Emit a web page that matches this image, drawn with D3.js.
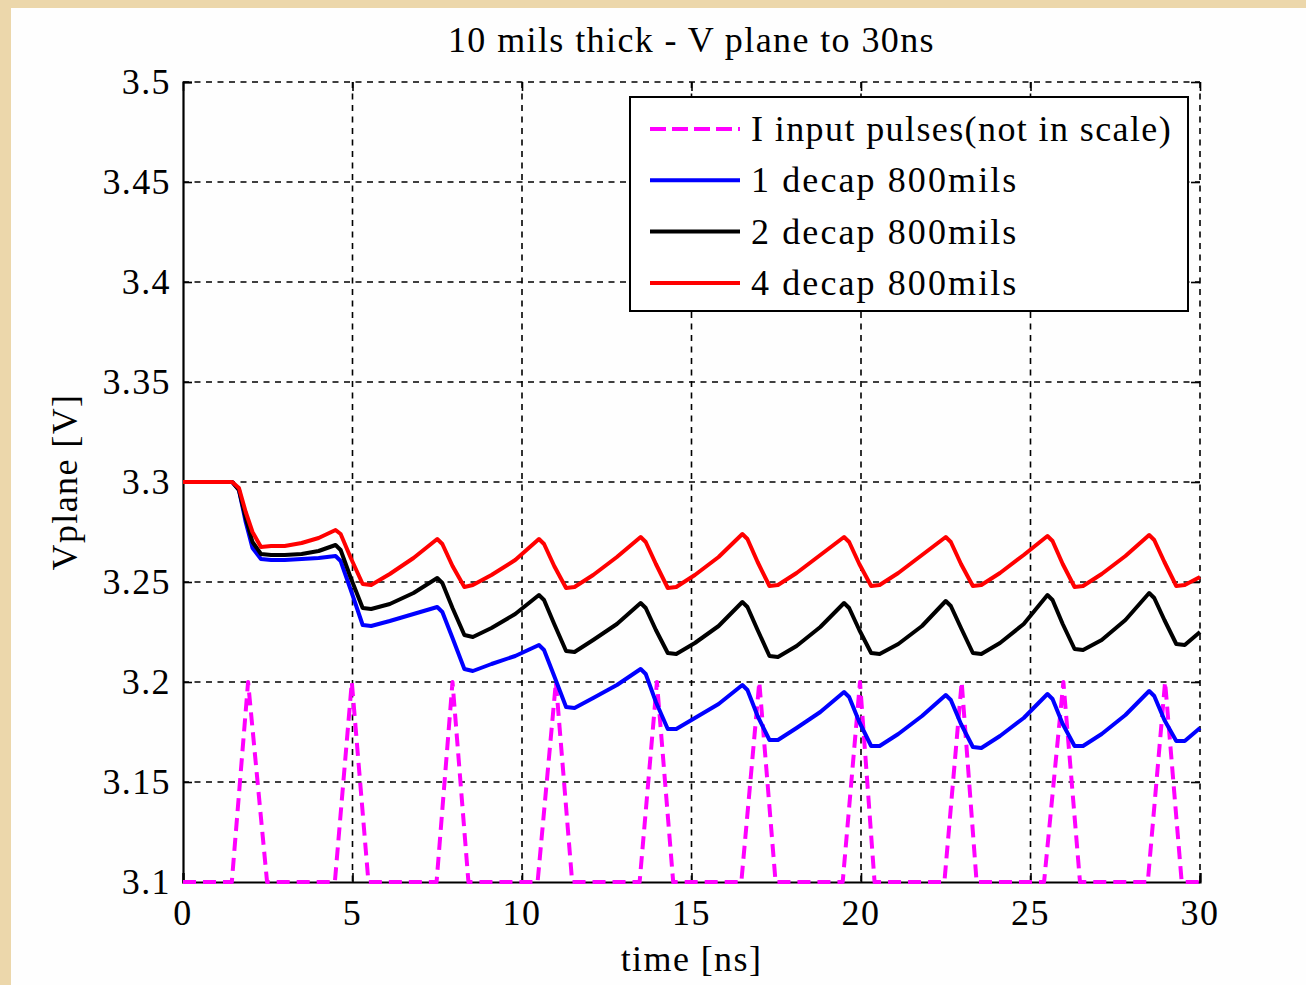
<!DOCTYPE html>
<html>
<head>
<meta charset="utf-8">
<script src="https://cdn.jsdelivr.net/npm/d3@7.9.0/dist/d3.min.js"></script>
<style>
  html, body { margin: 0; padding: 0; background: #ecd7ab; }
  svg { display: block; }
  text { font-family: "Liberation Serif", "Times New Roman", serif; fill: #000; letter-spacing: 1.4px; }
</style>
</head>
<body>
<svg id="chart" width="1306" height="985"></svg>
<script>
// chart data
const title = '10 mils thick - V plane to 30ns';
const xLabel = 'time [ns]';
const yLabel = 'Vplane [V]';
const xTicks = [0, 5, 10, 15, 20, 25, 30];
const yTicks = [3.1, 3.15, 3.2, 3.25, 3.3, 3.35, 3.4, 3.45, 3.5];
const yTickLabels = ['3.1', '3.15', '3.2', '3.25', '3.3', '3.35', '3.4', '3.45', '3.5'];
const legendLabels = ['I input pulses(not in scale)', '1 decap 800mils', '2 decap 800mils', '4 decap 800mils'];

// input current pulses (drawn on the voltage scale, not in scale)
const pulseT = [0, 1.44, 1.92, 2.48, 4.48, 4.98, 5.47, 7.48, 7.95, 8.42, 10.46, 11.0, 11.48,
  13.47, 13.98, 14.46, 16.47, 17.0, 17.48, 19.46, 19.97, 20.4, 22.46, 22.97, 23.41,
  25.4, 25.97, 26.46, 28.46, 28.97, 29.46, 30];
const pulseV = [3.1, 3.1, 3.2, 3.1, 3.1, 3.2, 3.1, 3.1, 3.2, 3.1, 3.1, 3.2, 3.1,
  3.1, 3.2, 3.1, 3.1, 3.2, 3.1, 3.1, 3.2, 3.1, 3.1, 3.2, 3.1,
  3.1, 3.2, 3.1, 3.1, 3.2, 3.1, 3.1];

// time grid shared by the three Vplane curves
const time = [0, 1.45, 1.65, 1.85, 2.05, 2.3, 2.6, 3.0, 3.5, 4.0, 4.5,
  4.65, 4.95, 5.3, 5.55, 6.1, 6.8, 7.5,
  7.65, 7.95, 8.3, 8.55, 9.1, 9.8, 10.5,
  10.65, 10.95, 11.3, 11.55, 12.1, 12.8, 13.5,
  13.65, 13.95, 14.3, 14.55, 15.1, 15.8, 16.5,
  16.65, 16.95, 17.3, 17.55, 18.1, 18.8, 19.5,
  19.65, 19.95, 20.3, 20.55, 21.1, 21.8, 22.5,
  22.65, 22.95, 23.3, 23.55, 24.1, 24.8, 25.5,
  25.65, 25.95, 26.3, 26.55, 27.1, 27.8, 28.5,
  28.65, 28.95, 29.3, 29.55, 30];

const v1decap = [3.3, 3.3, 3.296, 3.28, 3.267, 3.2615, 3.261, 3.261, 3.2615, 3.262, 3.263,
  3.2605, 3.246, 3.2285, 3.228, 3.2305, 3.234, 3.2375,
  3.235, 3.222, 3.2065, 3.2055, 3.209, 3.213, 3.2185,
  3.216, 3.203, 3.1875, 3.187, 3.192, 3.1985, 3.2065,
  3.204, 3.19, 3.1765, 3.1765, 3.182, 3.189, 3.1985,
  3.196, 3.183, 3.171, 3.171, 3.177, 3.185, 3.195,
  3.1925, 3.18, 3.168, 3.168, 3.174, 3.183, 3.1935,
  3.191, 3.179, 3.1675, 3.167, 3.173, 3.182, 3.194,
  3.1915, 3.179, 3.168, 3.168, 3.174, 3.1835, 3.1955,
  3.193, 3.181, 3.1705, 3.1705, 3.177];

const v2decap = [3.3, 3.3, 3.296, 3.282, 3.27, 3.264, 3.2635, 3.2635, 3.264, 3.2655, 3.2685,
  3.266, 3.252, 3.237, 3.2365, 3.239, 3.2445, 3.252,
  3.2495, 3.237, 3.2235, 3.2225, 3.227, 3.234, 3.2435,
  3.241, 3.229, 3.2155, 3.215, 3.221, 3.229, 3.2395,
  3.237, 3.226, 3.2145, 3.214, 3.2195, 3.228, 3.24,
  3.2375, 3.226, 3.213, 3.2125, 3.218, 3.2275, 3.2395,
  3.237, 3.226, 3.2145, 3.214, 3.219, 3.228, 3.2405,
  3.238, 3.227, 3.2145, 3.214, 3.2195, 3.229, 3.2435,
  3.241, 3.229, 3.2165, 3.216, 3.221, 3.231, 3.2445,
  3.242, 3.231, 3.219, 3.2185, 3.225];

const v4decap = [3.3, 3.3, 3.297, 3.285, 3.275, 3.2675, 3.268, 3.268, 3.2695, 3.272, 3.276,
  3.274, 3.262, 3.249, 3.2485, 3.254, 3.262, 3.2715,
  3.269, 3.258, 3.2475, 3.2485, 3.2535, 3.261, 3.2715,
  3.269, 3.258, 3.247, 3.2475, 3.2535, 3.2625, 3.2725,
  3.27, 3.259, 3.247, 3.2475, 3.2535, 3.2625, 3.274,
  3.2715, 3.26, 3.248, 3.2485, 3.2545, 3.2635, 3.2725,
  3.27, 3.259, 3.248, 3.2485, 3.2545, 3.2635, 3.2725,
  3.27, 3.259, 3.248, 3.2485, 3.2545, 3.2635, 3.273,
  3.2705, 3.259, 3.2475, 3.248, 3.254, 3.263, 3.2735,
  3.271, 3.26, 3.248, 3.2485, 3.2525];

// series in plot order (later ones drawn on top)
const series = [
  { label: legendLabels[0], t: pulseT, v: pulseV, color: '#ff00ff', dash: '13,7' },
  { label: legendLabels[1], t: time, v: v1decap, color: '#0000ff', dash: null },
  { label: legendLabels[2], t: time, v: v2decap, color: '#000000', dash: null },
  { label: legendLabels[3], t: time, v: v4decap, color: '#ff0000', dash: null }
];

// layout
const svg = d3.select('#chart');
const margin = { left: 183, top: 82, right: 1200, bottom: 882 };

// figure background (white sheet over the textured page)
svg.append('rect')
  .attr('x', 11).attr('y', 8)
  .attr('width', 1306 - 11).attr('height', 985 - 8)
  .attr('fill', '#fefefe');

const x = d3.scaleLinear().domain([0, 30]).range([margin.left, margin.right]);
const y = d3.scaleLinear().domain([3.1, 3.5]).range([margin.bottom, margin.top]);

// grid
const grid = svg.append('g')
  .attr('stroke', '#000')
  .attr('stroke-width', 1.6)
  .attr('stroke-dasharray', '6,5.5');

grid.selectAll('.vgrid')
  .data(xTicks.filter(d => d > 0))
  .join('line')
  .attr('x1', d => x(d)).attr('x2', d => x(d))
  .attr('y1', y(3.5)).attr('y2', y(3.1));

grid.selectAll('.hgrid')
  .data(yTicks.filter(d => d > 3.1))
  .join('line')
  .attr('x1', x(0)).attr('x2', x(30))
  .attr('y1', d => y(d)).attr('y2', d => y(d));

// axes (left and bottom solid, ticks inward)
const axisG = svg.append('g');
axisG.append('g')
  .attr('transform', `translate(${margin.left},0)`)
  .call(d3.axisRight(y).tickValues(yTicks).tickSize(9).tickFormat(''))
  .call(g => g.select('.domain').attr('stroke-width', 2.2));
axisG.append('g')
  .attr('transform', `translate(0,${margin.bottom})`)
  .call(d3.axisTop(x).tickValues(xTicks).tickSize(9).tickFormat(''))
  .call(g => g.select('.domain').attr('stroke-width', 2.2));
axisG.append('g')
  .attr('transform', `translate(${margin.right},0)`)
  .call(d3.axisLeft(y).tickValues(yTicks).tickSize(9).tickFormat(''))
  .call(g => g.select('.domain').remove());
axisG.append('g')
  .attr('transform', `translate(0,${margin.top})`)
  .call(d3.axisBottom(x).tickValues(xTicks).tickSize(9).tickFormat(''))
  .call(g => g.select('.domain').remove());
axisG.selectAll('.tick line').attr('stroke', '#000').attr('stroke-width', 1.6);

// tick labels
svg.append('g').selectAll('text')
  .data(yTicks)
  .join('text')
  .attr('x', margin.left - 12)
  .attr('y', d => y(d) + 12)
  .attr('text-anchor', 'end')
  .attr('font-size', 36)
  .text((d, i) => yTickLabels[i]);

svg.append('g').selectAll('text')
  .data(xTicks)
  .join('text')
  .attr('x', d => x(d))
  .attr('y', margin.bottom + 43)
  .attr('text-anchor', 'middle')
  .attr('font-size', 36)
  .text(d => d);

// titles
svg.append('text')
  .attr('x', (margin.left + margin.right) / 2)
  .attr('y', 52)
  .attr('text-anchor', 'middle')
  .attr('font-size', 36)
  .text(title);

svg.append('text')
  .attr('x', (margin.left + margin.right) / 2)
  .attr('y', 971)
  .attr('text-anchor', 'middle')
  .attr('font-size', 36)
  .text(xLabel);

svg.append('text')
  .attr('transform', `translate(77,${(margin.top + margin.bottom) / 2}) rotate(-90)`)
  .attr('text-anchor', 'middle')
  .attr('font-size', 36)
  .text(yLabel);

// data lines
const line = d3.line()
  .x(d => x(d[0]))
  .y(d => y(d[1]));

svg.append('g').selectAll('path')
  .data(series)
  .join('path')
  .attr('d', s => line(s.t.map((t, i) => [t, s.v[i]])))
  .attr('fill', 'none')
  .attr('stroke', s => s.color)
  .attr('stroke-width', 4)
  .attr('stroke-linejoin', 'round')
  .attr('stroke-dasharray', s => s.dash);

// legend
const legend = svg.append('g');
legend.append('rect')
  .attr('x', 630).attr('y', 97)
  .attr('width', 558).attr('height', 214)
  .attr('fill', '#fff')
  .attr('stroke', '#000')
  .attr('stroke-width', 2);

const rows = legend.selectAll('.row')
  .data(series)
  .join('g')
  .attr('transform', (d, i) => `translate(0,${129 + i * 51.3})`);

rows.append('line')
  .attr('x1', 650).attr('x2', 740)
  .attr('y1', 0).attr('y2', 0)
  .attr('stroke', d => d.color)
  .attr('stroke-width', 4)
  .attr('stroke-dasharray', d => d.dash ? '16,6' : null);

rows.append('text')
  .attr('x', 751)
  .attr('y', 12)
  .attr('font-size', 36)
  .style('letter-spacing', (d, i) => i === 0 ? '1.4px' : '2.1px')
  .text(d => d.label);
</script>
</body>
</html>
